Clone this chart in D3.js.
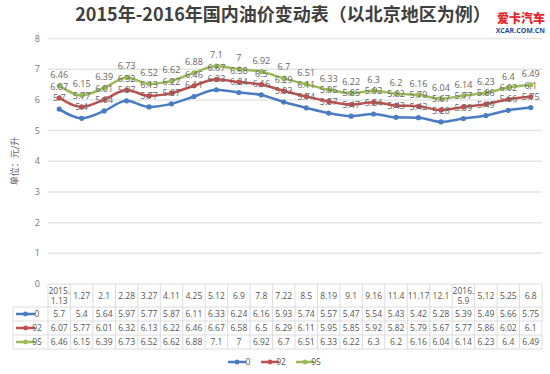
<!DOCTYPE html>
<meta charset="utf-8">
<style>
body { margin: 0; background: #fff; }
text { font-family: 'Open Sans', 'Noto Sans CJK SC', sans-serif; }
.tick-lbl { font-size: 9px; fill: #777; }
.dlabel { font-size: 9px; fill: #666; text-anchor: middle; }
.cell { font-size: 8.5px; fill: #555; text-anchor: middle; }
</style>
<body>
<svg width="550" height="374"></svg>
<script src="https://d3js.org/d3.v7.min.js"></script>
<script>

var dates = ["2015.\n1.13", "1.27", "2.1", "2.28", "3.27", "4.11", "4.25", "5.12", "6.9", "7.8",
  "7.22", "8.5", "8.19", "9.1", "9.16", "11.4", "11.17", "12.1", "2016.\n5.9", "5.12", "5.25", "6.8"];

var oil0 = [5.7, 5.4, 5.64, 5.97, 5.77, 5.87, 6.11, 6.33, 6.24, 6.16, 5.93, 5.74, 5.57, 5.47, 5.54, 5.43, 5.42, 5.28, 5.39, 5.49, 5.66, 5.75];
var oil92 = [6.07, 5.77, 6.01, 6.32, 6.13, 6.22, 6.46, 6.67, 6.58, 6.5, 6.29, 6.11, 5.95, 5.85, 5.92, 5.82, 5.79, 5.67, 5.77, 5.86, 6.02, 6.1];
var oil95 = [6.46, 6.15, 6.39, 6.73, 6.52, 6.62, 6.88, 7.1, 7, 6.92, 6.7, 6.51, 6.33, 6.22, 6.3, 6.2, 6.16, 6.04, 6.14, 6.23, 6.4, 6.49];

var seriesNames = ["0", "92", "95"];
var yTicks = [0, 1, 2, 3, 4, 5, 6, 7, 8];

var colors = ["#4a7cc2", "#c0504d", "#9bbb59"];
var series = [oil0, oil92, oil95];

var svg = d3.select("svg");

var x = d3.scaleBand()
    .domain(d3.range(dates.length))
    .range([48, 542]);

var y = d3.scaleLinear()
    .domain([0, 8])
    .range([284, 38.5]);

// title
svg.append("text")
    .attr("x", 283).attr("y", 21)
    .attr("text-anchor", "middle")
    .style("font-family", "'Noto Sans CJK SC', sans-serif")
    .style("font-weight", "bold")
    .style("font-size", "18px")
    .style("fill", "#404040")
    .text("2015年-2016年国内油价变动表（以北京地区为例）");

// logo
svg.append("text")
    .attr("x", 545).attr("y", 23)
    .attr("text-anchor", "end")
    .style("font-family", "'Noto Sans CJK SC', sans-serif")
    .style("font-weight", "900")
    .style("font-size", "12px")
    .style("fill", "#e4262b")
    .text("爱卡汽车");
svg.append("text")
    .attr("x", 545).attr("y", 33)
    .attr("text-anchor", "end")
    .style("font-weight", "bold")
    .style("font-size", "7px")
    .style("fill", "#1f4e9a")
    .text("XCAR.COM.CN");

// grid
svg.selectAll(".grid")
  .data(yTicks.slice(1))
  .enter().append("line")
    .attr("x1", 48).attr("x2", 542)
    .attr("y1", function(d) { return y(d); })
    .attr("y2", function(d) { return y(d); })
    .style("stroke", "#e4e4e4")
    .style("stroke-width", 1.5);

svg.selectAll(".ytick")
  .data(yTicks)
  .enter().append("text")
    .attr("class", "tick-lbl")
    .attr("x", 40)
    .attr("y", function(d) { return y(d) + 3; })
    .attr("text-anchor", "end")
    .text(function(d) { return d; });

// y title
svg.append("text")
    .attr("transform", "translate(18,161) rotate(-90)")
    .attr("text-anchor", "middle")
    .style("font-family", "'Noto Sans CJK SC', sans-serif")
    .style("font-size", "9px")
    .style("fill", "#666")
    .text("单位：元/升");

// lines
var line = d3.line()
    .x(function(d, i) { return x(i) + x.bandwidth() / 2; })
    .y(function(d) { return y(d); })
    .curve(d3.curveMonotoneX);

series.forEach(function(vals, si) {
  svg.append("path")
      .datum(vals)
      .attr("d", line)
      .style("fill", "none")
      .style("stroke", colors[si])
      .style("stroke-width", 2.5);

  svg.selectAll(".pt" + si)
    .data(vals)
    .enter().append("circle")
      .attr("cx", function(d, i) { return x(i) + x.bandwidth() / 2; })
      .attr("cy", function(d) { return y(d); })
      .attr("r", 2.6)
      .style("fill", colors[si]);
});

// data labels
series.forEach(function(vals, si) {
  svg.selectAll(".lb" + si)
    .data(vals)
    .enter().append("text")
      .attr("class", "dlabel")
      .attr("x", function(d, i) { return x(i) + x.bandwidth() / 2; })
      .attr("y", function(d) { return y(d) - 8; })
      .text(function(d) { return d; });
});

// data table
var tTop = 284, hdrH = 23, rowH = 14, tLeft = 13;
var tBottom = tTop + hdrH + rowH * 3;
var gridStroke = "#dcdcdc";

// vertical lines
x.domain().concat([dates.length]).forEach(function(i) {
  var xx = i < dates.length ? x(i) : x.range()[1];
  svg.append("line")
      .attr("x1", xx).attr("x2", xx)
      .attr("y1", tTop).attr("y2", tBottom)
      .style("stroke", gridStroke).style("stroke-width", 1);
});
svg.append("line")
    .attr("x1", tLeft).attr("x2", tLeft)
    .attr("y1", tTop + hdrH).attr("y2", tBottom)
    .style("stroke", gridStroke);

// horizontal lines
[tTop, tTop + hdrH, tTop + hdrH + rowH, tTop + hdrH + rowH * 2, tBottom].forEach(function(yy, k) {
  svg.append("line")
      .attr("x1", k === 0 ? 48 : tLeft).attr("x2", 542)
      .attr("y1", yy).attr("y2", yy)
      .style("stroke", gridStroke);
});

// header
dates.forEach(function(d, i) {
  var parts = d.split("\n");
  var cx = x(i) + x.bandwidth() / 2;
  var t = svg.append("text").attr("class", "cell");
  parts.forEach(function(p, k) {
    t.append("tspan")
        .attr("x", cx)
        .attr("y", tTop + hdrH / 2 + 3 + (k - (parts.length - 1) / 2) * 10)
        .text(p);
  });
});

// rows
series.forEach(function(vals, si) {
  var cy = tTop + hdrH + rowH * si + rowH / 2;
  svg.append("line")
      .attr("x1", tLeft + 3).attr("x2", tLeft + 22)
      .attr("y1", cy).attr("y2", cy)
      .style("stroke", colors[si]).style("stroke-width", 2.5);
  svg.append("circle")
      .attr("cx", tLeft + 12.5).attr("cy", cy).attr("r", 2.4)
      .style("fill", colors[si]);
  svg.append("text")
      .attr("class", "cell")
      .attr("x", tLeft + 24).attr("y", cy + 3)
      .attr("text-anchor", "start")
      .text(seriesNames[si]);
  svg.selectAll(".row" + si)
    .data(vals)
    .enter().append("text")
      .attr("class", "cell")
      .attr("x", function(d, i) { return x(i) + x.bandwidth() / 2; })
      .attr("y", cy + 3)
      .text(function(d) { return d; });
});

// legend
var legX = [228, 261, 296];
series.forEach(function(vals, si) {
  var lx = legX[si], ly = 362;
  svg.append("line")
      .attr("x1", lx).attr("x2", lx + 18)
      .attr("y1", ly).attr("y2", ly)
      .style("stroke", colors[si]).style("stroke-width", 2.5);
  svg.append("circle")
      .attr("cx", lx + 9).attr("cy", ly).attr("r", 2.4)
      .style("fill", colors[si]);
  svg.append("text")
      .attr("class", "cell")
      .attr("x", lx + 20).attr("y", ly + 3)
      .attr("text-anchor", "start")
      .text(seriesNames[si]);
});

</script>
